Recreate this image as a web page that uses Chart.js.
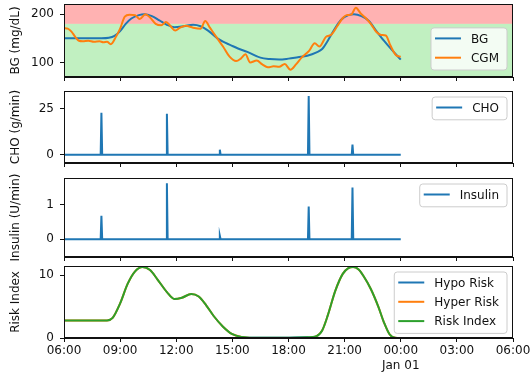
<!DOCTYPE html>
<html>
<head>
<meta charset="utf-8">
<script src="https://cdn.jsdelivr.net/npm/chart.js@4/dist/chart.umd.min.js"></script>
<style>
  html, body { margin: 0; padding: 0; background: #fff; }
  body { width: 530px; height: 377px; position: relative; overflow: hidden; }
  canvas { position: absolute; left: 0; }
</style>
</head>
<body>
<canvas id="bgChart" width="530" height="84" style="top:0px"></canvas>
<canvas id="choChart" width="530" height="90" style="top:80px"></canvas>
<canvas id="insulinChart" width="530" height="104" style="top:160px"></canvas>
<canvas id="riskChart" width="530" height="121" style="top:256px"></canvas>
<script>
// ---- Data (hours since midnight of the simulation day) ----
const SIM_START = 6;
const SIM_END = 24;
const SAMPLE_STEP = 0.04; // spike half width, in hours

const hourTicks = [6, 9, 12, 15, 18, 21, 24, 27, 30];
const hourTickLabels = ['06:00', '09:00', '12:00', '15:00', '18:00', '21:00', ['00:00', 'Jan 01'], '03:00', '06:00'];

const bgTimes = [6, 7, 8, 8.4, 8.7, 9.0, 9.3, 9.6, 10.0, 10.3, 10.7, 11.1, 11.5, 11.9, 12.4, 12.9, 13.3, 13.7, 14.2, 14.5,
  14.9, 15.3, 15.8, 16.5, 17.0, 17.5, 18.0, 18.5, 19.0, 19.5, 19.8, 20.1, 20.4, 20.8, 21.2, 21.5, 21.9, 22.3, 22.7, 23.1,
  23.5, 24.0];
const bgValues = [150, 150, 150, 151, 155, 165, 180, 191, 198, 200, 196, 187, 178, 173, 175, 178, 175, 166, 150, 143,
  136, 129, 122, 110, 107, 106, 108, 111, 114, 121, 128, 145, 165, 188, 198, 200, 196, 186, 165, 145,
  127, 106];

const cgmTimes = [6.0, 6.2, 6.4, 6.6, 6.8, 7.0, 7.3, 7.6, 7.9, 8.1, 8.3, 8.5, 8.8, 9.0, 9.25, 9.5, 9.8, 10.05, 10.35, 10.6,
  10.9, 11.2, 11.45, 11.7, 11.95, 12.2, 12.5, 12.9, 13.3, 13.55, 13.8, 14.1, 14.5, 14.85, 15.2, 15.45, 15.7, 15.95, 16.3, 16.6,
  16.9, 17.2, 17.5, 17.8, 18.1, 18.4, 18.7, 19.1, 19.4, 19.65, 20.0, 20.3, 20.6, 20.9, 21.1, 21.35, 21.6, 21.85, 22.1, 22.4,
  22.7, 22.95, 23.2, 23.45, 23.75, 24.0];
const cgmValues = [171, 170, 164, 153, 145, 144, 145, 143, 144, 142, 143, 138, 155, 170, 195, 199, 198, 190, 200, 193,
  180, 177, 184, 175, 166, 172, 176, 172, 170, 186, 172, 155, 133, 112, 103, 108, 117, 100, 104, 96,
  90, 92, 91, 97, 85, 96, 110, 124, 140, 133, 153, 158, 175, 192, 198, 199, 213, 202, 193, 180,
  163, 157, 156, 135, 115, 112];

// target range shading (mg/dL)
const bgBandLimits = [70, 180, 250];

const mealTimes = [8.0, 11.5, 14.33, 19.08, 21.42];
const choRates = [22.8, 22.3, 2.7, 31.9, 5.5];
const insulinRates = [0.68, 1.63, 0.1, 0.95, 1.5];

const riskTimes = [6, 8.3, 8.6, 9.0, 9.4, 9.8, 10.2, 10.6, 11.0, 11.5, 11.9, 12.3, 12.8, 13.2, 13.6, 14.0, 14.5, 15.0, 15.5, 16.0,
  17.0, 18.0, 19.0, 19.5, 19.8, 20.1, 20.5, 20.9, 21.2, 21.45, 21.75, 22.0, 22.4, 22.8, 23.1, 23.4, 23.7, 24.0];
const riskIndex = [2.8, 2.8, 3.2, 5.5, 8.6, 10.6, 11.3, 10.8, 9.3, 7.3, 6.2, 6.4, 7.0, 6.6, 5.2, 3.5, 1.8, 0.6, 0.15, 0.05,
  0.02, 0.05, 0.1, 0.3, 1.2, 3.6, 7.5, 10.2, 11.1, 11.3, 10.9, 9.9, 7.8, 5.0, 2.5, 0.6, 0.05, 0];
const hyperRisk = [2.8, 2.8, 3.2, 5.5, 8.6, 10.6, 11.3, 10.8, 9.3, 7.3, 6.2, 6.4, 7.0, 6.6, 5.2, 3.5, 1.8, 0.6, 0.15, 0,
  0, 0, 0, 0.3, 1.2, 3.6, 7.5, 10.2, 11.1, 11.3, 10.9, 9.9, 7.8, 5.0, 2.5, 0.6, 0.05, 0];
const hypoRisk = [0, 0, 0, 0, 0, 0, 0, 0, 0, 0, 0, 0, 0, 0, 0, 0, 0, 0, 0, 0.05,
  0.02, 0.05, 0.1, 0, 0, 0, 0, 0, 0, 0, 0, 0, 0, 0, 0, 0, 0, 0];

// ---- Styling ----
const BLUE = '#1f77b4';
const ORANGE = '#ff7f0e';
const GREEN = '#2ca02c';
const INK = '#111';

Chart.defaults.font.family = '"DejaVu Sans", sans-serif';
Chart.defaults.font.size = 12;
Chart.defaults.color = INK;

// ---- Helpers ----
const pairs = (xs, ys) => xs.map((x, i) => ({ x, y: ys[i] }));

function spikeSeries(times, peaks) {
  const pts = [{ x: SIM_START, y: 0 }];
  times.forEach((t, i) => {
    pts.push({ x: t - SAMPLE_STEP, y: 0 }, { x: t, y: peaks[i] }, { x: t + SAMPLE_STEP, y: 0 });
  });
  pts.push({ x: SIM_END, y: 0 });
  return pts;
}

// later datasets sit on top, like matplotlib
function lineSet(label, data, color, smooth, order) {
  return {
    label,
    data,
    order,
    borderColor: color,
    backgroundColor: color,
    borderWidth: 2,
    pointRadius: 0,
    fill: false,
    cubicInterpolationMode: smooth ? 'monotone' : 'default',
    tension: 0,
  };
}

function xAxis(showLabels) {
  return {
    type: 'linear',
    min: hourTicks[0],
    max: hourTicks[hourTicks.length - 1],
    afterBuildTicks: (s) => { s.ticks = hourTicks.map((v) => ({ value: v })); },
    ticks: {
      display: showLabels,
      autoSkip: false,
      maxRotation: 0,
      padding: 2,
      color: INK,
      callback: (v, i) => hourTickLabels[i],
    },
    grid: { drawOnChartArea: false, tickLength: 4, tickColor: INK, color: INK },
    border: { color: INK, width: 1 },
    afterFit: (s) => {
      s.height = showLabels ? 39 : 7;
      s.paddingLeft = 0;
      s.paddingRight = 0;
    },
  };
}

function yAxis(title, min, max, ticks) {
  return {
    type: 'linear',
    min,
    max,
    afterBuildTicks: (s) => { s.ticks = ticks.map((v) => ({ value: v })); },
    ticks: { padding: 6, color: INK },
    grid: { drawOnChartArea: false, tickLength: 4, tickColor: INK },
    border: { color: INK, width: 1 },
    title: { display: true, text: title, color: INK, padding: { top: 9, bottom: 0 } },
    afterFit: (s) => {
      s.width = 64;
      s.paddingTop = 0;
      s.paddingBottom = 0;
    },
  };
}

// shading bands, axes frame and matplotlib-like legend box
const panelDecor = {
  id: 'panelDecor',
  beforeDatasetsDraw(chart, args, opts) {
    if (!opts.bands) return;
    const { ctx, chartArea: a } = chart;
    const y = chart.scales.y;
    ctx.save();
    ctx.beginPath();
    ctx.rect(a.left, a.top, a.width, a.height);
    ctx.clip();
    opts.bands.forEach((b) => {
      const top = y.getPixelForValue(b.to);
      const bottom = y.getPixelForValue(b.from);
      ctx.fillStyle = b.color;
      ctx.fillRect(a.left, top, a.width, bottom - top);
    });
    ctx.restore();
  },
  afterDraw(chart, args, opts) {
    const { ctx, chartArea: a } = chart;
    ctx.save();
    ctx.strokeStyle = INK;
    ctx.lineWidth = 1;
    ctx.strokeRect(Math.round(a.left) + 0.5, Math.round(a.top) + 0.5,
      Math.round(a.width) - 1, Math.round(a.height) - 1);

    const items = chart.data.datasets;
    ctx.font = '12px "DejaVu Sans"';
    const tw = Math.max(...items.map((d) => ctx.measureText(d.label).width));
    const w = 40 + tw + 8;
    const h = 19.3 * items.length + 3.5;
    const x = a.right - 6 - w;
    const y = opts.legendLoc === 'lower right' ? a.bottom - 7 - h : a.top + 6;
    const r = 3;
    ctx.beginPath();
    ctx.moveTo(x + r, y);
    ctx.arcTo(x + w, y, x + w, y + h, r);
    ctx.arcTo(x + w, y + h, x, y + h, r);
    ctx.arcTo(x, y + h, x, y, r);
    ctx.arcTo(x, y, x + w, y, r);
    ctx.closePath();
    ctx.fillStyle = 'rgba(255,255,255,0.8)';
    ctx.fill();
    ctx.strokeStyle = '#cccccc';
    ctx.stroke();

    items.forEach((d, i) => {
      const cy = y + 10.5 + 19.3 * i;
      ctx.strokeStyle = d.borderColor;
      ctx.lineWidth = 2;
      ctx.beginPath();
      ctx.moveTo(x + 4, cy);
      ctx.lineTo(x + 30, cy);
      ctx.stroke();
      ctx.fillStyle = INK;
      ctx.textBaseline = 'middle';
      ctx.textAlign = 'left';
      ctx.fillText(d.label, x + 40, cy + 1);
    });
    ctx.restore();
  },
};

function makePanel(id, datasets, y, showXLabels, padTop, decor) {
  new Chart(document.getElementById(id).getContext('2d'), {
    type: 'line',
    data: { datasets },
    options: {
      responsive: false,
      animation: false,
      events: [],
      layout: { padding: { top: padTop, right: 17, left: 0, bottom: 0 } },
      scales: { x: xAxis(showXLabels), y },
      plugins: {
        legend: { display: false },
        tooltip: { enabled: false },
        panelDecor: decor,
      },
    },
    plugins: [panelDecor],
  });
}

// ---- Panels ----
makePanel('bgChart', [
  lineSet('BG', pairs(bgTimes, bgValues), BLUE, true, 2),
  lineSet('CGM', pairs(cgmTimes, cgmValues), ORANGE, true, 1),
], yAxis('BG (mg/dL)', 70, 221, [100, 200]), false, 4, {
  legendLoc: 'lower right',
  bands: [
    { from: bgBandLimits[0], to: bgBandLimits[1], color: 'rgba(50,205,50,0.3)' },
    { from: bgBandLimits[1], to: bgBandLimits[2], color: 'rgba(255,0,0,0.3)' },
  ],
});

makePanel('choChart', [
  lineSet('CHO', spikeSeries(mealTimes, choRates), BLUE, false, 1),
], yAxis('CHO (g/min)', -4.5, 34.6, [0, 25]), false, 11, { legendLoc: 'upper right' });

makePanel('insulinChart', [
  lineSet('Insulin', spikeSeries(mealTimes, insulinRates), BLUE, false, 1),
], yAxis('Insulin (U/min)', -0.52, 1.78, [0, 1]), false, 18, { legendLoc: 'upper right' });

makePanel('riskChart', [
  lineSet('Hypo Risk', pairs(riskTimes, hypoRisk), BLUE, true, 3),
  lineSet('Hyper Risk', pairs(riskTimes, hyperRisk), ORANGE, true, 2),
  lineSet('Risk Index', pairs(riskTimes, riskIndex), GREEN, true, 1),
], yAxis('Risk Index', 0, 11.45, [0, 10]), true, 10, { legendLoc: 'upper right' });
</script>
</body>
</html>
